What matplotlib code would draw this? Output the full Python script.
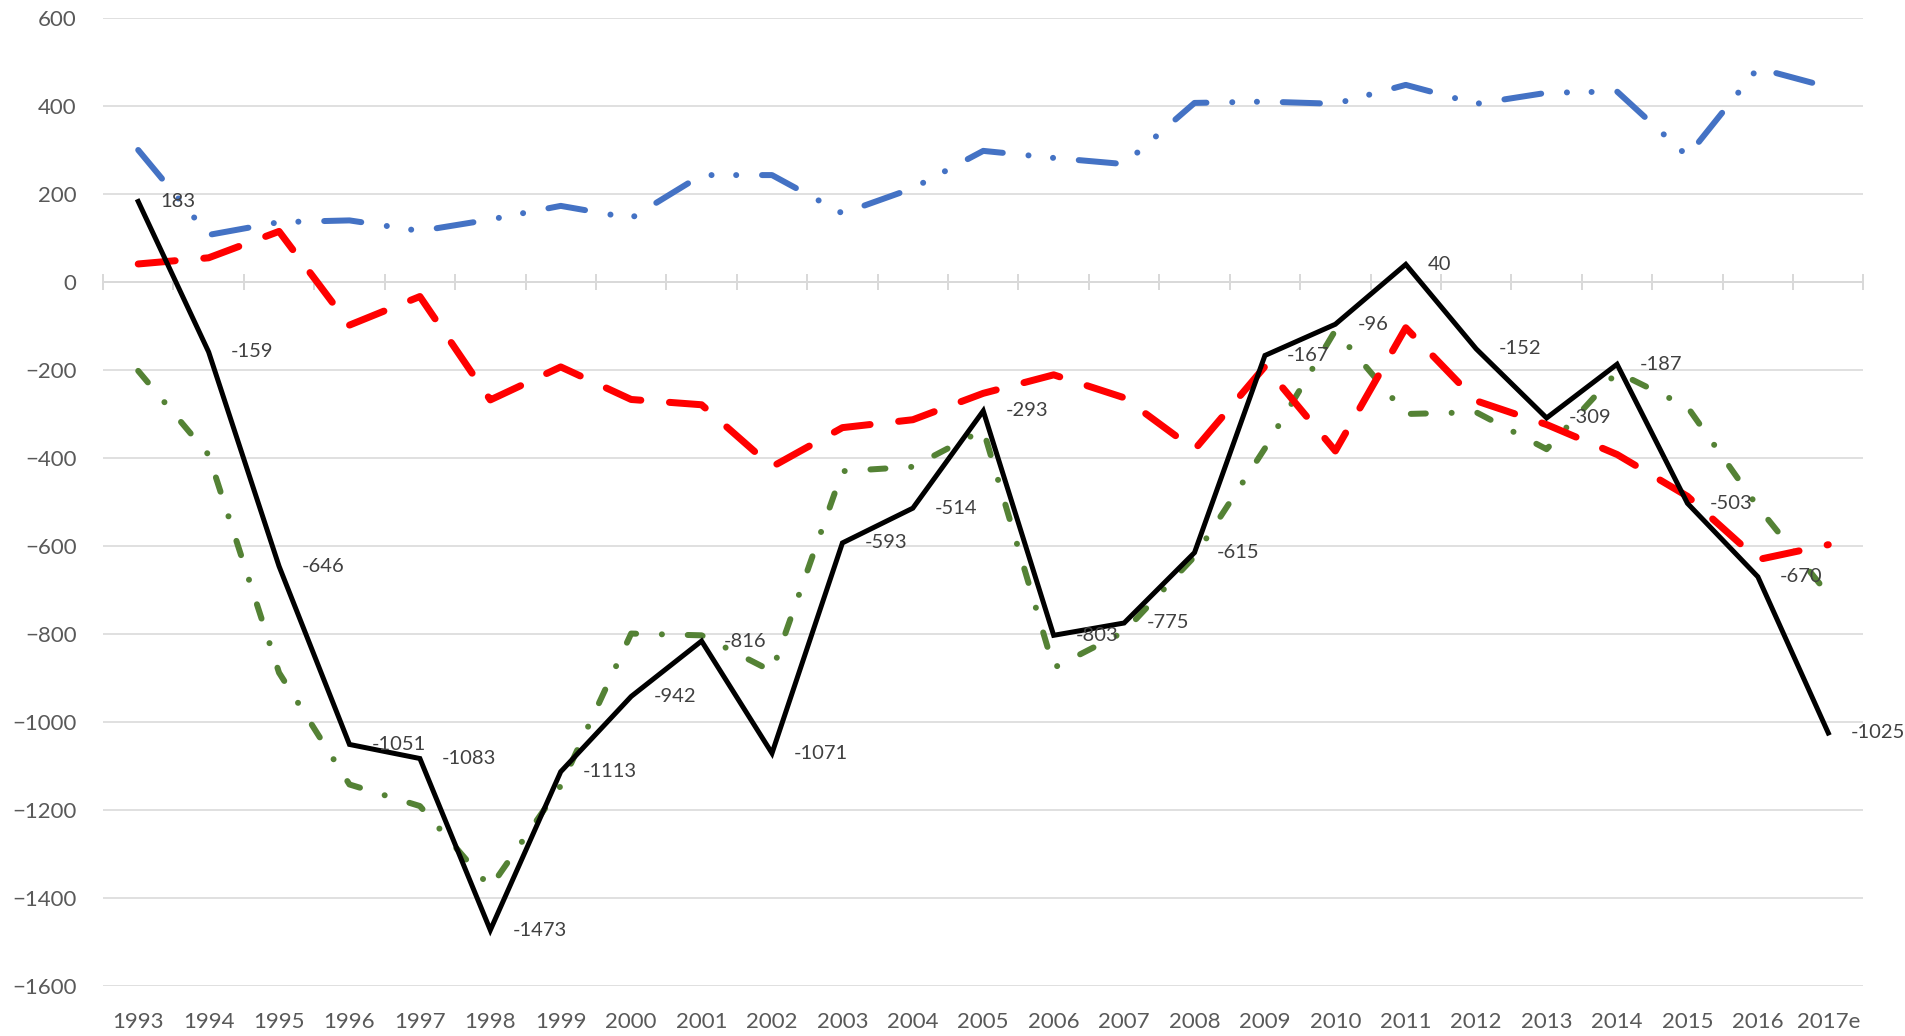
import matplotlib
matplotlib.use("Agg")
import matplotlib.pyplot as plt
import numpy as np

years = ["1993", "1994", "1995", "1996", "1997", "1998", "1999", "2000", "2001", "2002",
         "2003", "2004", "2005", "2006", "2007", "2008", "2009", "2010", "2011", "2012",
         "2013", "2014", "2015", "2016", "2017e"]

blue_vals = [300, 107, 136, 140, 116, 142, 173, 145, 243, 243,
             156, 213, 298, 282, 268, 407, 410, 405, 448, 405,
             430, 433, 286, 486, 443]
red_vals = [41, 55, 115, -98, -33, -268, -193, -267, -279, -420,
            -331, -313, -253, -211, -263, -381, -192, -384, -104, -270,
            -324, -392, -487, -631, -597]
green_vals = [-202, -393, -888, -1142, -1191, -1376, -1145, -799, -803, -885,
              -430, -420, -336, -877, -795, -624, -378, -110, -300, -296,
              -380, -205, -284, -511, -710]
black_vals = [183, -159, -646, -1051, -1083, -1473, -1113, -942, -816, -1071,
              -593, -514, -293, -803, -775, -615, -167, -96, 40, -152,
              -309, -187, -503, -670, -1025]

plt.rcParams['font.family'] = ['Lato', 'DejaVu Sans']

W, H, DPI = 1906, 1036, 100
fig = plt.figure(figsize=(W / DPI, H / DPI), dpi=DPI)
ax = fig.add_axes([103 / W, 1 - 986 / H, (1863.5 - 103) / W, (986 - 18) / H])

x = np.arange(len(years))
px = 72.0 / DPI  # points per pixel

ax.set_xlim(-0.5, len(years) - 0.5)
ax.set_ylim(-1600, 600)
ax.set_yticks(np.arange(-1600, 601, 200))
ax.grid(axis='y', color='#d9d9d9', linewidth=1.6 * px, zorder=0)
ax.set_axisbelow(True)
for s in ax.spines.values():
    s.set_visible(False)

ax.tick_params(axis='y', length=0, pad=19, labelsize=16, labelcolor='#595959')
ax.set_xticks(x)
ax.set_xticklabels(years)
ax.tick_params(axis='x', length=0, pad=19, labelsize=16, labelcolor='#595959')

# category axis at y = 0 with crossing tick marks
sec = ax.secondary_xaxis(0, transform=ax.transData)
sec.set_xticks(np.arange(len(years) + 1) - 0.5)
sec.set_xticklabels([])
sec.tick_params(axis='x', direction='inout', length=16 * px, width=2 * px, color='#d9d9d9')
for k, s in sec.spines.items():
    if k == 'bottom':
        s.set_color('#d9d9d9')
        s.set_linewidth(2 * px)
    else:
        s.set_visible(False)

# series
ax.plot(x, blue_vals, color='#4472c4', linewidth=6 * px,
        dash_capstyle='round', linestyle=(0, (6.2, 4.3, 0.01, 4.1, 0.01, 4.3)), zorder=3)
ax.plot(x, green_vals, color='#548235', linewidth=6 * px, dash_capstyle='round',
        linestyle=(0, (2.5, 4.3, 0.01, 4.3)), zorder=4)
ax.plot(x, red_vals, color='#ff0000', linewidth=7 * px, dash_capstyle='round',
        linestyle=(0, (5.3, 4.1)), zorder=5)
ax.plot(x, black_vals, color='#000000', linewidth=5 * px, solid_joinstyle='miter', zorder=6)

for xi, v in zip(x, black_vals):
    ax.annotate(str(v), (xi, v), xytext=(16, 0), textcoords='offset points',
                ha='left', va='center', fontsize=14.5, color='#404040', zorder=7)

fig.savefig('out.png', dpi=DPI, facecolor='white')
